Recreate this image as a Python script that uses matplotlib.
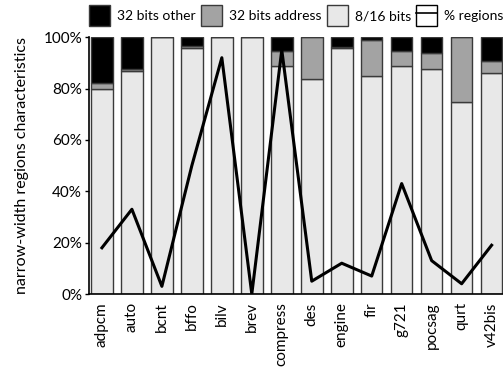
import matplotlib.pyplot as plt
import matplotlib as mpl
from matplotlib.patches import Patch
from matplotlib.lines import Line2D
from matplotlib.legend_handler import HandlerTuple
import numpy as np

plt.rcParams['font.family'] = ['Lato', 'DejaVu Sans']

# Données
benchmarks = ['adpcm', 'auto', 'bcnt', 'bffo', 'bilv', 'brev', 'compress',
              'des', 'engine', 'fir', 'g721', 'pocsag', 'qurt', 'v42bis']
bits_8_16 = [80, 87, 100, 95.8, 100, 100, 88.8, 83.8, 95.6, 84.8, 88.8, 87.8, 74.8, 85.9]
bits_32_addr = [2, 0.6, 0, 0.7, 0, 0, 5.8, 16.2, 0.6, 14, 5.8, 6, 25.2, 4.8]
bits_32_other = [18, 12.4, 0, 3.5, 0, 0, 5.4, 0, 3.8, 1.2, 5.4, 6.2, 0, 9.3]
pct_regions = [18, 33, 3, 50, 92, 0, 95, 5, 12, 7, 43, 13, 4, 19]

x = np.arange(len(benchmarks))
w = 0.72
edge = '#3a3a3a'

fig = plt.figure(figsize=(5.03, 3.68), dpi=100)
ax = fig.add_axes([0.177, 0.201, 0.823, 0.698])

b1 = np.array(bits_8_16)
b2 = np.array(bits_32_addr)
ax.bar(x, bits_8_16, w, color='#e8e8e8', edgecolor=edge, linewidth=1)
ax.bar(x, bits_32_addr, w, bottom=b1, color='#a3a3a3', edgecolor=edge, linewidth=1)
ax.bar(x, bits_32_other, w, bottom=b1 + b2, color='black', edgecolor=edge, linewidth=1)
ax.plot(x, pct_regions, color='black', linewidth=2.2)

ax.set_xlim(-0.43, len(benchmarks) - 0.62)
ax.set_ylim(0, 100)
ax.set_yticks(range(0, 101, 20))
ax.set_yticklabels(['%d%%' % v for v in range(0, 101, 20)], fontsize=11)
ax.set_xticks(x)
ax.set_xticklabels(benchmarks, rotation=90, fontsize=11)
ax.tick_params(axis='x', length=0, pad=6)
ax.tick_params(axis='y', length=3, width=1, pad=2)
ax.set_ylabel('narrow-width regions characteristics', fontsize=11.5, labelpad=10)
for s in ['top', 'right']:
    ax.spines[s].set_visible(False)
ax.spines['left'].set_linewidth(1.2)
ax.spines['bottom'].set_linewidth(1.2)

handles = [Patch(facecolor='black', edgecolor=edge),
           Patch(facecolor='#a3a3a3', edgecolor=edge),
           Patch(facecolor='#e8e8e8', edgecolor=edge),
           (Patch(facecolor='white', edgecolor='black'),
            Line2D([], [], color='black', linewidth=1.2))]
labels = ['32 bits other', '32 bits address', '8/16 bits', '% regions']
fig.legend(handles, labels, loc='upper left', bbox_to_anchor=(0.177, 1 - 5 / 368),
           ncol=4, frameon=False, fontsize=10, handlelength=1.5, handleheight=2.0,
           handletextpad=0.5, columnspacing=0.4, borderpad=0, borderaxespad=0,
           handler_map={tuple: HandlerTuple(ndivide=1)})

mpl.rcParams['figure.dpi'] = 100
plt.savefig('out.png', dpi=100)
